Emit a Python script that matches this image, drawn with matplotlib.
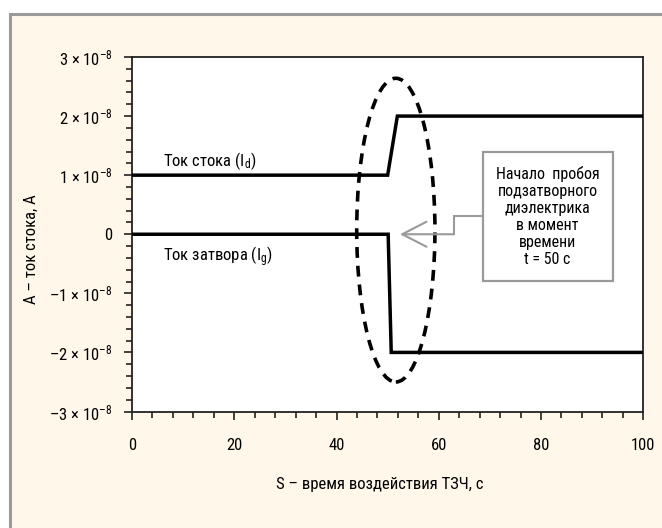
import matplotlib
matplotlib.use("Agg")
import matplotlib.pyplot as plt
from matplotlib import font_manager
from matplotlib.patches import Ellipse, Rectangle
from matplotlib.ticker import MultipleLocator, FuncFormatter

# pick a narrow sans face if one is installed
def pick_font(names):
    for name in names:
        try:
            font_manager.findfont(name, fallback_to_default=False)
            return name
        except ValueError:
            pass
    return "DejaVu Sans"

FONT = pick_font(["Liberation Sans Narrow", "Roboto Condensed", "Liberation Sans"])
plt.rcParams["font.family"] = [FONT, "DejaVu Sans"]
plt.rcParams["mathtext.fontset"] = "custom"
plt.rcParams["mathtext.rm"] = FONT
plt.rcParams["mathtext.it"] = FONT

# drain and gate current vs exposure time
t_drain = [0, 50, 51.9, 100]
i_drain = [1e-8, 1e-8, 2e-8, 2e-8]
t_gate = [0, 50.1, 50.7, 100]
i_gate = [0, 0, -2e-8, -2e-8]

x_ticks = [0, 20, 40, 60, 80, 100]
y_ticks = [-3e-8, -2e-8, -1e-8, 0, 1e-8, 2e-8, 3e-8]

note_lines = ["Начало  пробоя", "подзатворного", "диэлектрика",
              "в момент", "времени", "t = 50 с"]

CREAM = "#FFF7EA"
GRAY = "#9a9a9a"

fig = plt.figure(figsize=(6.62, 5.28), dpi=100)
fig.patch.set_facecolor("white")
frame = Rectangle((9.5 / 662, -0.05), 1.1, 514 / 528 + 0.05,
                  transform=fig.transFigure, facecolor=CREAM,
                  edgecolor=GRAY, lw=2.2, zorder=-10)
fig.patches.append(frame)

ax = fig.add_axes([132 / 662, (528 - 411.5) / 528, 511.3 / 662, 354.5 / 528])
ax.set_facecolor("white")

ax.plot(t_drain, i_drain, color="black", lw=2.5, solid_joinstyle="miter", zorder=3)
ax.plot(t_gate, i_gate, color="black", lw=2.5, solid_joinstyle="miter", zorder=3)

ax.set_xlim(0, 100)
ax.set_ylim(-3e-8, 3e-8)
ax.set_xticks(x_ticks)
ax.set_yticks(y_ticks)
ax.xaxis.set_minor_locator(MultipleLocator(4))
ax.yaxis.set_minor_locator(MultipleLocator(0.2e-8))


def fmt_current(v, pos):
    n = int(round(v / 1e-8))
    if n == 0:
        return "0"
    sign = "\u2013" if n < 0 else ""
    return sign + str(abs(n)) + " \u00d7 10$^{\u2013 8}$"


ax.yaxis.set_major_formatter(FuncFormatter(fmt_current))
ax.tick_params(which="major", direction="out", length=6, width=1.2,
               labelsize=12, color="#222222")
ax.tick_params(which="minor", direction="out", length=4.5, width=1.2,
               color="#222222")
ax.tick_params(axis="x", pad=13)
ax.tick_params(axis="y", pad=8)
for s in ax.spines.values():
    s.set_linewidth(1.3)
    s.set_color("#222222")

# breakdown region
ax.add_patch(Ellipse((51.6, 0.07e-8), 15.3, 5.14e-8, fill=False,
                     edgecolor="black", lw=2.6, linestyle=(0, (3, 2.2)),
                     zorder=4))

ax.text(6.1, 1.16e-8, r"Ток стока (I$_{\mathrm{d}}$)", fontsize=12,
        ha="left", va="baseline")
ax.text(6.1, -0.465e-8, r"Ток затвора (I$_{\mathrm{g}}$)", fontsize=12,
        ha="left", va="baseline")

# note box with arrow to the gate current step
ax.add_patch(Rectangle((68.6, -0.79e-8), 25.4, 2.19e-8, facecolor="white",
                       edgecolor=GRAY, lw=1.6, zorder=5))
ax.text(81.3, 0.30e-8, "\n".join(note_lines), fontsize=11.5, ha="center",
        va="center", linespacing=1.17, zorder=6)
ax.plot([68.6, 62.9, 62.9], [0.31e-8, 0.31e-8, 0], color=GRAY, lw=1.5,
        solid_joinstyle="miter", zorder=5)
ax.annotate("", xy=(52.4, 0), xytext=(62.95, 0),
            arrowprops=dict(arrowstyle="->,head_length=1.75,head_width=0.9",
                            color=GRAY, lw=1.5, mutation_scale=10,
                            shrinkA=0, shrinkB=0), zorder=5)

fig.text(379.5 / 662, (528 - 485) / 528, "S \u2013 время воздействия ТЗЧ, с",
         fontsize=12, ha="center", va="center")
fig.text(31.7 / 662, (528 - 249) / 528, "А \u2013 ток стока, А",
         fontsize=12, ha="center", va="center", rotation=90)

fig.savefig("out.png", dpi=100, facecolor=fig.get_facecolor())
